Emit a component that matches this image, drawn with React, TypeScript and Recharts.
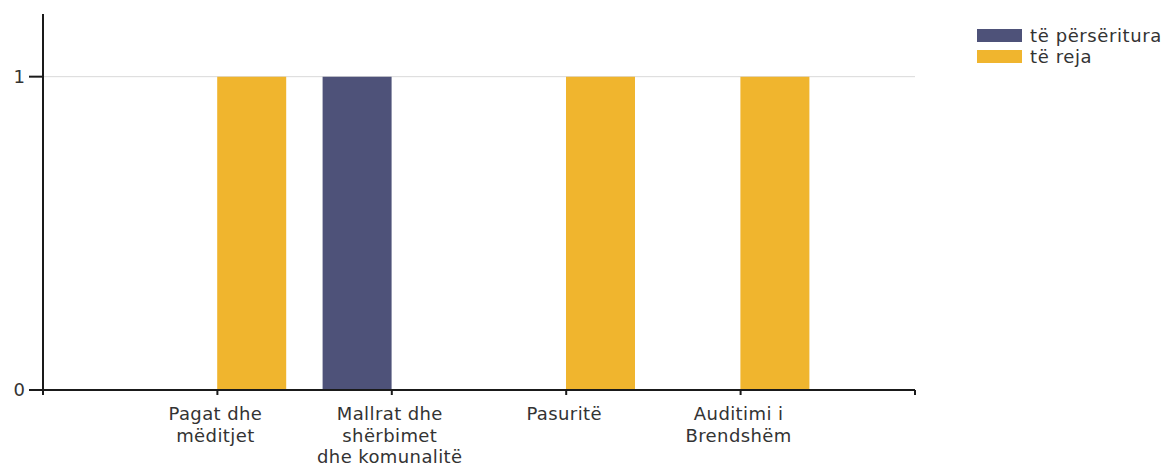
import React from "react";
import { BarChart, Bar, XAxis, YAxis, CartesianGrid } from "recharts";

const categories = [
  "Pagat dhe mëditjet",
  "Mallrat dhe shërbimet dhe komunalitë",
  "Pasuritë",
  "Auditimi i Brendshëm",
];
const tickLines = [
  ["Pagat dhe", "mëditjet"],
  ["Mallrat dhe", "shërbimet", "dhe komunalitë"],
  ["Pasuritë"],
  ["Auditimi i", "Brendshëm"],
];
const perseritura = [0, 1, 0, 0];
const reja = [1, 0, 1, 1];
const seriesNames = ["të përsëritura", "të reja"];
const yTicks = [0, 1];

const BLUE = "#4e5279";
const YELLOW = "#f0b52e";
const TEXT = "#333";
const FONT = "'DejaVu Sans', Verdana, sans-serif";

// categories sit on positions 1..n of a numeric axis so the axis gets end ticks too
const data = categories.map((name, i) => ({
  name,
  pos: i + 1,
  perseritura: perseritura[i],
  reja: reja[i],
}));
const xTicks = Array.from({ length: categories.length + 2 }, (_, i) => i);

function XTick(props: any) {
  const { x, y, payload } = props;
  const lines = tickLines[payload.value - 1] || [];
  const cx = x - 2;
  return (
    <text
      x={cx}
      y={y}
      textAnchor="middle"
      fill={TEXT}
      fontSize={18}
      letterSpacing={0.4}
      fontFamily={FONT}
    >
      {lines.map((l, i) => (
        <tspan key={i} x={cx} dy={i === 0 ? 23 : 21.5}>
          {l}
        </tspan>
      ))}
    </text>
  );
}

function LegendBox() {
  const colors = [BLUE, YELLOW];
  return (
    <div
      style={{
        position: "absolute",
        left: 977,
        top: 25,
        fontFamily: FONT,
        fontSize: 18,
        letterSpacing: 0.6,
        color: TEXT,
      }}
    >
      {seriesNames.map((label, i) => (
        <div
          key={label}
          style={{ display: "flex", alignItems: "center", height: 21 }}
        >
          <span
            style={{
              display: "inline-block",
              width: 45,
              height: 13,
              background: colors[i],
              marginRight: 8,
            }}
          />
          <span>{label}</span>
        </div>
      ))}
    </div>
  );
}

export default function App() {
  return (
    <div
      style={{
        position: "absolute",
        left: 0,
        top: 0,
        width: 1169,
        height: 468,
        background: "#fff",
      }}
    >
      <BarChart
        width={1169}
        height={468}
        data={data}
        barGap={0}
        barSize={69}
        margin={{ top: 14, right: 254, left: 0, bottom: 0 }}
      >
        <CartesianGrid
          vertical={false}
          stroke="#d9d9d9"
          horizontalValues={[1]}
        />
        <XAxis
          type="number"
          dataKey="pos"
          domain={[0, xTicks.length - 1]}
          ticks={xTicks}
          interval={0}
          height={78}
          tickSize={5}
          tickMargin={2}
          axisLine={{ stroke: "#1a1a1a", strokeWidth: 2 }}
          tickLine={{ stroke: "#1a1a1a", strokeWidth: 2 }}
          tick={<XTick />}
        />
        <YAxis
          domain={[0, 1.2]}
          ticks={yTicks}
          width={43}
          tickSize={14}
          tickMargin={4}
          axisLine={{ stroke: "#1a1a1a", strokeWidth: 2 }}
          tickLine={{ stroke: "#1a1a1a", strokeWidth: 2 }}
          tick={{ fill: TEXT, fontSize: 18, fontFamily: FONT }}
        />
        <Bar
          dataKey="perseritura"
          name={seriesNames[0]}
          fill={BLUE}
          isAnimationActive={false}
        />
        <Bar
          dataKey="reja"
          name={seriesNames[1]}
          fill={YELLOW}
          isAnimationActive={false}
        />
      </BarChart>
      <LegendBox />
    </div>
  );
}
